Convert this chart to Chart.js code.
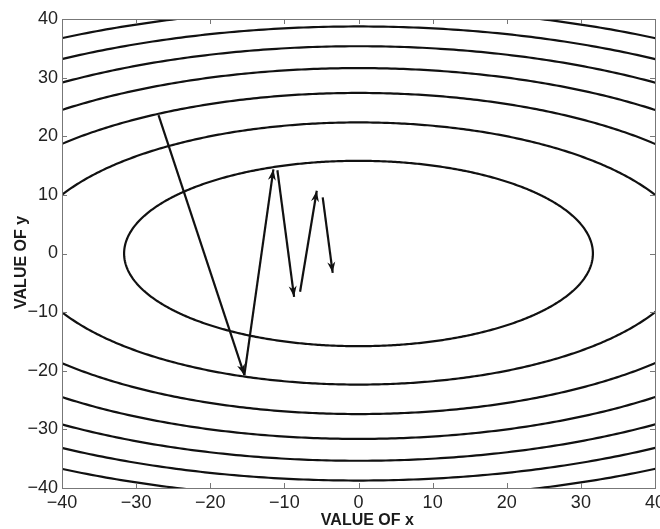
<!DOCTYPE html>
<html>
<head>
<meta charset="UTF-8">
<title>Gradient descent on elliptic contours</title>
<script src="https://cdn.jsdelivr.net/npm/chart.js"></script>
<style>
  html, body { margin: 0; padding: 0; overflow: hidden; background: #fff; }
</style>
</head>
<body>
<canvas id="grafico" width="675" height="529"></canvas>
<script>
// contour levels of f(x,y) = x^2 + 4*y^2
const contourLevels = [1000, 2000, 3000, 4000, 5000, 6000, 7000]
const yWeight = 4

// steepest descent steps (each one is an arrow)
const arrowStartX = [-26.98, -15.4, -10.94, -7.88, -4.83]
const arrowStartY = [23.6, -20.75, 14.2, -6.53, 9.57]
const arrowEndX = [-15.39, -11.48, -8.69, -5.63, -3.48]
const arrowEndY = [-20.75, 14.35, -7.39, 10.7, -3.3]

// axes
const axisMin = -40
const axisMax = 40
const tickStep = 10

const fonte = '"Liberation Sans", Arial, Helvetica, sans-serif'
const minus = v => v < 0 ? '\u2212' + Math.abs(v) : String(v)
// titles sit a bit off-centre in the original, nbsp nudges them
const nb = '\u00a0\u00a0\u00a0\u00a0'

let datasets = []

contourLevels.forEach(c => {
    let pts = []
    const a = Math.sqrt(c)
    const b = Math.sqrt(c / yWeight)
    for (let i = 0; i <= 360; i++) {
        const t = i * Math.PI / 180
        pts.push({ x: a * Math.cos(t), y: b * Math.sin(t) })
    }
    datasets.push({
        data: pts,
        showLine: true,
        borderColor: '#111',
        borderWidth: 2.2,
        pointRadius: 0,
        tension: 0.001, // avoids the fast path that squashes the ends of the ellipse
        clip: 0
    })
})

for (let i = 0; i < arrowStartX.length; i++) {
    datasets.push({
        data: [{ x: arrowStartX[i], y: arrowStartY[i] }, { x: arrowEndX[i], y: arrowEndY[i] }],
        showLine: true,
        borderColor: '#111',
        borderWidth: 2.2,
        pointRadius: 0,
        arrow: true,
        clip: 0
    })
}

// arrow heads at the end of each step
const cabecas = {
    id: 'cabecas',
    afterDatasetsDraw(chart) {
        const ctx = chart.ctx
        chart.data.datasets.forEach((ds, i) => {
            if (!ds.arrow) return
            const pts = chart.getDatasetMeta(i).data
            const p0 = pts[0], p1 = pts[1]
            const ang = Math.atan2(p1.y - p0.y, p1.x - p0.x)
            const len = 11, half = 4
            ctx.save()
            ctx.translate(p1.x, p1.y)
            ctx.rotate(ang)
            ctx.fillStyle = '#111'
            ctx.beginPath()
            ctx.moveTo(0, 0)
            ctx.lineTo(-len, -half)
            ctx.lineTo(-len * 0.7, 0)
            ctx.lineTo(-len, half)
            ctx.closePath()
            ctx.fill()
            ctx.restore()
        })
    }
}

// box and inward ticks on all four sides
const caixa = {
    id: 'caixa',
    afterDatasetsDraw(chart) {
        const ctx = chart.ctx
        const a = chart.chartArea
        const sx = chart.scales.x, sy = chart.scales.y
        ctx.save()
        ctx.strokeStyle = '#777'
        ctx.lineWidth = 1
        ctx.beginPath()
        sx.ticks.forEach(t => {
            const px = Math.round(sx.getPixelForValue(t.value)) + 0.5
            ctx.moveTo(px, a.bottom); ctx.lineTo(px, a.bottom - 5)
            ctx.moveTo(px, a.top); ctx.lineTo(px, a.top + 5)
        })
        sy.ticks.forEach(t => {
            const py = Math.round(sy.getPixelForValue(t.value)) + 0.5
            ctx.moveTo(a.left, py); ctx.lineTo(a.left + 5, py)
            ctx.moveTo(a.right, py); ctx.lineTo(a.right - 5, py)
        })
        ctx.stroke()
        ctx.strokeRect(Math.round(a.left) + 0.5, Math.round(a.top) + 0.5,
            Math.round(a.right - a.left), Math.round(a.bottom - a.top))
        ctx.restore()
    }
}

new Chart(document.getElementById('grafico'), {
    type: 'scatter',
    data: { datasets: datasets },
    options: {
        responsive: false,
        animation: false,
        devicePixelRatio: 1,
        layout: { padding: { top: 19, right: 20, left: 0, bottom: 0 } },
        plugins: { legend: { display: false }, tooltip: { enabled: false } },
        scales: {
            x: {
                min: axisMin, max: axisMax,
                grid: { display: false, drawTicks: false },
                border: { display: false },
                ticks: {
                    stepSize: tickStep,
                    callback: minus,
                    color: '#222',
                    padding: 4,
                    maxRotation: 0,
                    font: { family: fonte, size: 18 }
                },
                title: {
                    display: true,
                    text: nb + 'VALUE OF x',
                    color: '#1a1a1a',
                    padding: { top: 0, bottom: 0 },
                    font: { family: fonte, size: 16, weight: 'bold', lineHeight: 1 }
                },
                afterFit: s => { s.height = 41 }
            },
            y: {
                min: axisMin, max: axisMax,
                grid: { display: false, drawTicks: false },
                border: { display: false },
                ticks: {
                    stepSize: tickStep,
                    callback: minus,
                    color: '#222',
                    padding: 4,
                    font: { family: fonte, size: 18 }
                },
                title: {
                    display: true,
                    text: 'VALUE OF y' + nb,
                    color: '#1a1a1a',
                    padding: { top: 14, bottom: 0 },
                    font: { family: fonte, size: 16, weight: 'bold', lineHeight: 1 }
                },
                afterFit: s => { s.width = 62 }
            }
        }
    },
    plugins: [cabecas, caixa]
})
</script>
</body>
</html>
